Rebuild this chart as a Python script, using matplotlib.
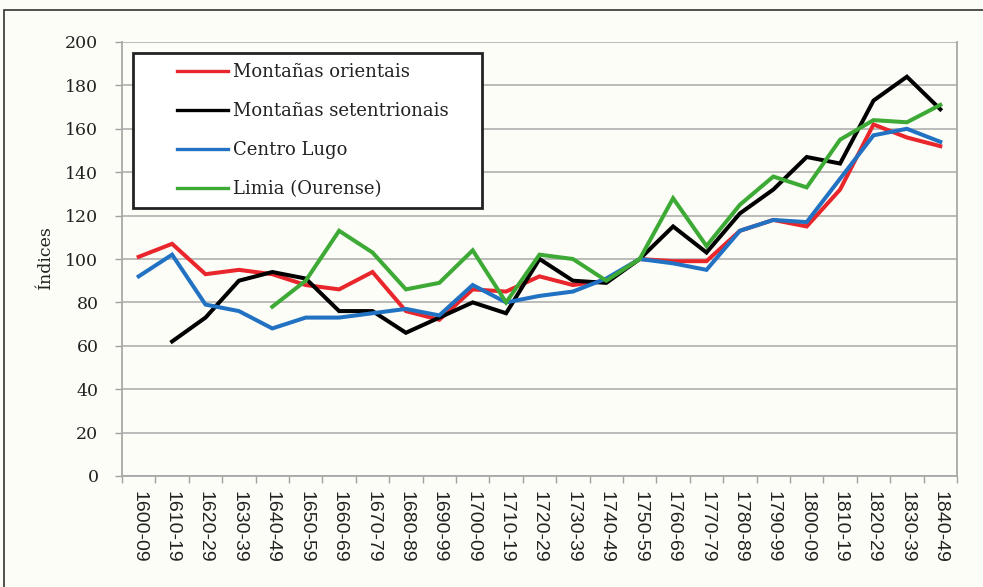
import matplotlib
matplotlib.use("Agg")
import matplotlib.pyplot as plt
from matplotlib.patches import Rectangle
import numpy as np

categories = ["1600-09", "1610-19", "1620-29", "1630-39", "1640-49", "1650-59", "1660-69",
              "1670-79", "1680-89", "1690-99", "1700-09", "1710-19", "1720-29", "1730-39",
              "1740-49", "1750-59", "1760-69", "1770-79", "1780-89", "1790-99", "1800-09",
              "1810-19", "1820-29", "1830-39", "1840-49"]

orientais = [101, 107, 93, 95, 93, 88, 86, 94, 76, 72, 86, 85, 92, 88, 90, 100,
             99, 99, 113, 118, 115, 132, 162, 156, 152]
setentrionais = [None, 62, 73, 90, 94, 91, 76, 76, 66, 73, 80, 75, 100, 90, 89, 100,
                 115, 103, 121, 132, 147, 144, 173, 184, 169]
centro_lugo = [92, 102, 79, 76, 68, 73, 73, 75, 77, 74, 88, 80, 83, 85, 91, 100,
               98, 95, 113, 118, 117, 137, 157, 160, 154]
limia = [None, None, None, None, 78, 90, 113, 103, 86, 89, 104, 80, 102, 100, 90, 100,
         128, 106, 125, 138, 133, 155, 164, 163, 171]

series_names = ["Montañas orientais", "Montañas setentrionais", "Centro Lugo", "Limia (Ourense)"]
series_values = [orientais, setentrionais, centro_lugo, limia]
series_colors = ["#E8262B", "#000000", "#2272C3", "#3DAA35"]

y_ticks = list(range(0, 201, 20))

W, H = 983, 587
fig = plt.figure(figsize=(W / 100, H / 100), dpi=100)
bg = "#FDFDF8"
fig.patch.set_facecolor(bg)

ax = fig.add_axes([122 / W, 1 - 476 / H, (957 - 122) / W, (476 - 42) / H])
ax.set_facecolor(bg)

x = np.arange(len(categories))
for name, vals, col in zip(series_names, series_values, series_colors):
    y = np.array([np.nan if v is None else v for v in vals], dtype=float)
    ax.plot(x, y, color=col, lw=2.9, label=name, solid_joinstyle="miter", zorder=3)

ax.set_xlim(-0.5, len(categories) - 0.5)
ax.set_ylim(0, 200)
ax.set_yticks(y_ticks)
ax.set_yticklabels([str(t) for t in y_ticks], fontsize=12.5, family="DejaVu Serif", color="#222222")
ax.set_xticks(x)
ax.set_xticklabels(categories, rotation=270, fontsize=14, family="Liberation Sans", color="#222222")
ax.tick_params(axis="x", length=0, pad=11)
ax.set_xticks(np.arange(-0.5, len(categories), 1), minor=True)
ax.tick_params(axis="x", which="minor", length=5, color="#A0A0A0", width=1)
ax.tick_params(axis="y", length=5, color="#A0A0A0", width=1, pad=12)

ax.grid(axis="y", color="#B5B5B5", lw=1.3, zorder=1)
for s in ["left", "right", "bottom"]:
    ax.spines[s].set_color("#A8A8A8")
    ax.spines[s].set_linewidth(1.3)
ax.spines["top"].set_visible(False)

fig.text(45 / W, 1 - 257 / H, "Índices", rotation=90, ha="center", va="center",
         fontsize=12.5, family="DejaVu Serif", color="#222222")

# legend box
ax.add_patch(Rectangle((133 / W, 1 - 208 / H), (482 - 133) / W, (208 - 53) / H,
                       transform=fig.transFigure, facecolor="white", edgecolor="#222222",
                       lw=2.0, zorder=4, clip_on=False))
leg = ax.legend(loc="upper left", bbox_to_anchor=(177 / W, 1 - 63 / H), bbox_transform=fig.transFigure,
                borderaxespad=0, borderpad=0, frameon=False, handlelength=2.82, handletextpad=0.28,
                labelspacing=1.17, prop={"family": "DejaVu Serif", "size": 13})
leg.set_zorder(5)
for line in leg.get_lines():
    line.set_linewidth(2.4)
for t in leg.get_texts():
    t.set_color("#222222")

fig.patches.append(Rectangle((4 / W, -0.05), 1.2, 1 - 10 / H + 0.05, transform=fig.transFigure,
                             fill=False, edgecolor="#333333", lw=1.2))

fig.savefig("out.png", dpi=100, facecolor=bg)
